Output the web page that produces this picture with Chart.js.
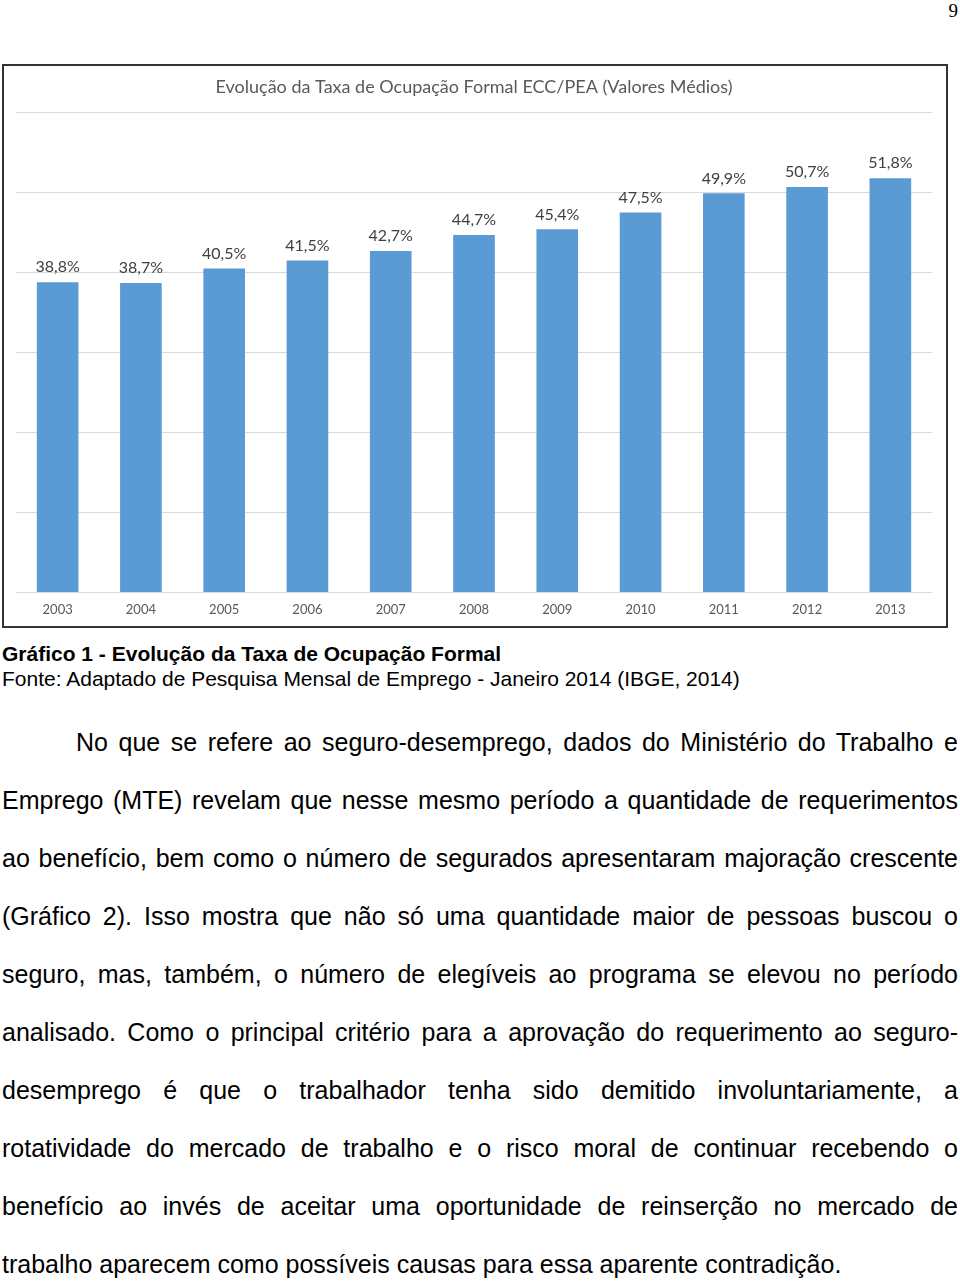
<!DOCTYPE html>
<html lang="pt">
<head>
    <meta charset="UTF-8">
    <title>Gráfico 1 - Evolução da Taxa de Ocupação Formal</title>
    <script src="https://cdn.jsdelivr.net/npm/chart.js@4.4.3/dist/chart.umd.min.js"></script>
    <style>
        body { margin: 0; background: #fff; width: 960px; height: 1284px; position: relative; font-family: "Liberation Sans", Arial, sans-serif; color: #000; }
        .pagina { position: absolute; right: 2px; top: 0; font-family: "Liberation Serif", "DejaVu Serif", serif; font-size: 19px; }
        .quadro { position: absolute; left: 2px; top: 64px; width: 942px; height: 560px; border: 2px solid #333; }
        .legenda { position: absolute; left: 2px; top: 641px; font-size: 21px; line-height: 25px; }
        .texto { position: absolute; left: 2px; top: 713px; width: 956px; font-size: 25px; line-height: 58px; }
        .texto div { text-align: justify; text-align-last: justify; white-space: nowrap; }
        .texto div.fim { text-align-last: left; }
    </style>
</head>
<body>
    <div class="pagina">9</div>
    <div class="quadro">
        <canvas id="taxaChart" width="942" height="560"></canvas>
    </div>
    <div class="legenda">
        <b>Gráfico 1 - Evolução da Taxa de Ocupação Formal</b><br>
        Fonte: Adaptado de Pesquisa Mensal de Emprego - Janeiro 2014 (IBGE, 2014)
    </div>
    <div class="texto">
        <div style="padding-left:74px">No que se refere ao seguro-desemprego, dados do Ministério do Trabalho e</div>
        <div>Emprego (MTE) revelam que nesse mesmo período a quantidade de requerimentos</div>
        <div>ao benefício, bem como o número de segurados apresentaram majoração crescente</div>
        <div>(Gráfico 2). Isso mostra que não só uma quantidade maior de pessoas buscou o</div>
        <div>seguro, mas, também, o número de elegíveis ao programa se elevou no período</div>
        <div>analisado. Como o principal critério para a aprovação do requerimento ao seguro-</div>
        <div>desemprego é que o trabalhador tenha sido demitido involuntariamente, a</div>
        <div>rotatividade do mercado de trabalho e o risco moral de continuar recebendo o</div>
        <div>benefício ao invés de aceitar uma oportunidade de reinserção no mercado de</div>
        <div class="fim">trabalho aparecem como possíveis causas para essa aparente contradição.</div>
    </div>
    <script>
        // Dados do gráfico
        const anos = ['2003', '2004', '2005', '2006', '2007', '2008', '2009', '2010', '2011', '2012', '2013'];
        const taxaOcupacao = [38.8, 38.7, 40.5, 41.5, 42.7, 44.7, 45.4, 47.5, 49.9, 50.7, 51.8];

        // Rótulos de valor acima das barras
        const rotulos = {
            id: 'rotulos',
            afterDatasetsDraw(chart) {
                const ctx = chart.ctx;
                ctx.save();
                ctx.font = '16px Lato, "Open Sans", sans-serif';
                ctx.fillStyle = '#404040';
                ctx.textAlign = 'center';
                ctx.textBaseline = 'bottom';
                chart.getDatasetMeta(0).data.forEach((barra, i) => {
                    const texto = taxaOcupacao[i].toFixed(1).replace('.', ',') + '%';
                    ctx.fillText(texto, barra.x, barra.y - 7);
                });
                ctx.restore();
            }
        };

        new Chart(document.getElementById('taxaChart'), {
            type: 'bar',
            data: {
                labels: anos,
                datasets: [{
                    label: 'Taxa de Ocupação Formal',
                    data: taxaOcupacao,
                    backgroundColor: '#5B9BD5',
                    barPercentage: 0.5,
                    categoryPercentage: 1
                }]
            },
            options: {
                responsive: false,
                animation: false,
                layout: { padding: { left: 12, right: 14, top: 0, bottom: -2 } },
                plugins: {
                    legend: { display: false },
                    tooltip: { enabled: false },
                    title: {
                        display: true,
                        text: 'Evolução da Taxa de Ocupação Formal ECC/PEA (Valores Médios)',
                        color: '#595959',
                        font: { family: 'Lato, "Open Sans", sans-serif', size: 18, weight: 'normal' },
                        padding: { top: 10, bottom: 15 }
                    }
                },
                scales: {
                    x: {
                        grid: { display: false, drawTicks: false },
                        border: { display: false },
                        ticks: {
                            color: '#595959',
                            font: { family: 'Lato, "Open Sans", sans-serif', size: 13 },
                            padding: 10
                        }
                    },
                    y: {
                        min: 0,
                        max: 60,
                        ticks: { display: false, stepSize: 10 },
                        grid: { color: '#d9d9d9', drawTicks: false },
                        border: { display: false }
                    }
                }
            },
            plugins: [rotulos]
        });
    </script>
</body>
</html>
